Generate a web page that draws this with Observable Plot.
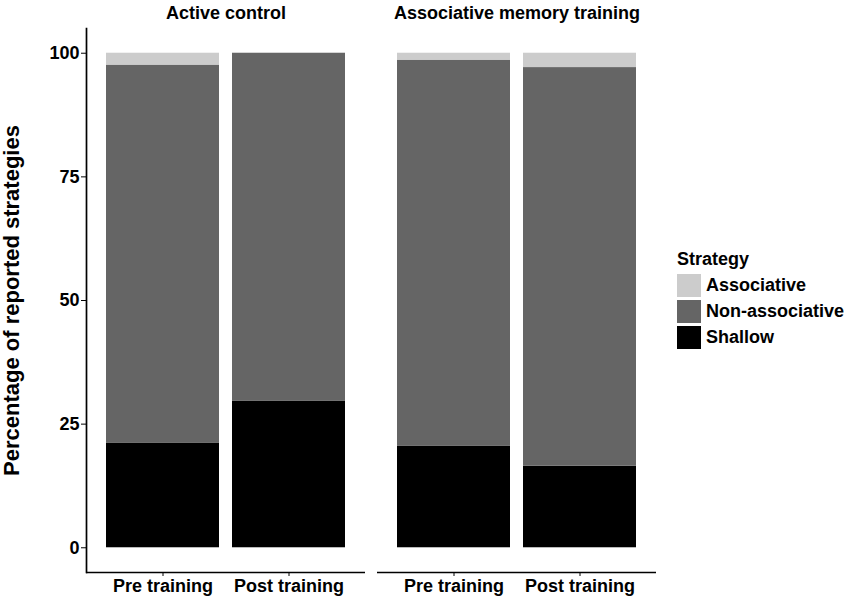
<!DOCTYPE html>
<html><head><meta charset="utf-8">
<script src="https://cdn.jsdelivr.net/npm/d3@7"></script>
<script src="https://cdn.jsdelivr.net/npm/@observablehq/plot@0.6"></script>
<style>
body{margin:0;background:#fff;font-family:"Liberation Sans",Arial,sans-serif;}
#wrap{position:relative;width:850px;height:600px;}
#legend{position:absolute;left:677px;top:248px;font-weight:bold;font-size:18px;color:#000;}
#legend .title{height:22px;line-height:22px;margin-bottom:2px;}
#legend .row{display:flex;align-items:center;height:26px;}
#legend .sw{width:24px;height:23px;margin-right:5px;}
svg g[aria-label="y-axis label"] text{font-size:22px;}
</style></head><body>
<div id="wrap"><div id="legend"></div></div>
<script>
const groups = ["Active control", "Associative memory training"];
const phases = ["Pre training", "Post training"];
const strategies = ["Associative", "Non-associative", "Shallow"];
const colors = ["#cccccc", "#656565", "#000000"];
// bar order: AC pre, AC post, AMT pre, AMT post
const barGroup = [groups[0], groups[0], groups[1], groups[1]];
const barPhase = [phases[0], phases[1], phases[0], phases[1]];
const associative = [2.4, 0, 1.4, 2.9];
const nonAssociative = [76.5, 70.4, 78.1, 80.6];
const shallow = [21.1, 29.6, 20.5, 16.5];
const yTicks = [0, 25, 50, 75, 100];

const rows = [];
barGroup.forEach((g, i) => {
  rows.push({group: g, phase: barPhase[i], strategy: "Shallow", value: shallow[i]});
  rows.push({group: g, phase: barPhase[i], strategy: "Non-associative", value: nonAssociative[i]});
  rows.push({group: g, phase: barPhase[i], strategy: "Associative", value: associative[i]});
});

const font = "'Liberation Sans', Arial, sans-serif";
const plot = Plot.plot({
  width: 850, height: 600,
  marginLeft: 86, marginRight: 194, marginTop: 28, marginBottom: 28,
  style: {fontFamily: font, fontWeight: "bold", fontSize: "18px", color: "#000", background: "transparent"},
  fx: {domain: groups, paddingInner: 12 / 291, paddingOuter: 0, label: null},
  x: {domain: phases, paddingInner: 0.1, paddingOuter: 0.15, label: null},
  y: {domain: [-5, 105]},
  color: {domain: strategies, range: colors},
  marks: [
    Plot.barY(rows, {fx: "group", x: "phase", y: "value", fill: "strategy",
      order: ["Shallow", "Non-associative", "Associative"]}),
    Plot.ruleY([-5], {stroke: "#000", strokeWidth: 1.7}),
    Plot.frame({anchor: "left", facetAnchor: "left", stroke: "#000", strokeWidth: 1.7}),
    Plot.axisY({ticks: yTicks, tickSize: 5, tickPadding: 2, tickFormat: d => d,
      label: "Percentage of reported strategies", labelAnchor: "center", labelArrow: "none", labelOffset: 83}),
    Plot.axisX({tickSize: 4, tickPadding: 3, label: null}),
    Plot.axisFx({anchor: "top", tickSize: 0, tickPadding: 10, label: null})
  ]
});
document.getElementById("wrap").prepend(plot);

const legend = document.getElementById("legend");
legend.innerHTML = '<div class="title">Strategy</div>' + strategies.map((s, i) =>
  `<div class="row"><div class="sw" style="background:${colors[i]}"></div><span>${s}</span></div>`).join("");
</script>
</body></html>
